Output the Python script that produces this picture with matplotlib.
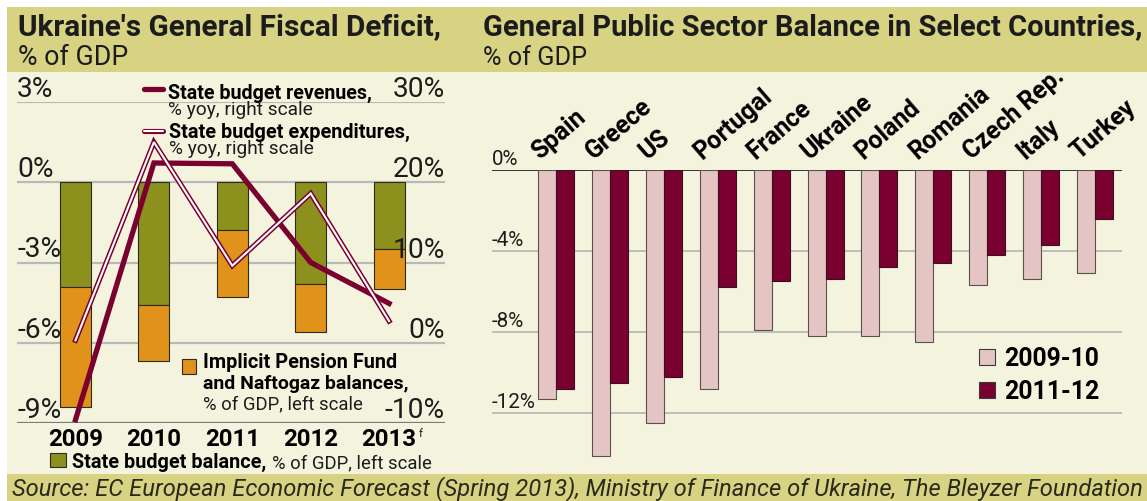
import matplotlib
matplotlib.use("Agg")
import matplotlib.pyplot as plt
import matplotlib.transforms as mtransforms
from matplotlib.patches import Rectangle
from matplotlib.lines import Line2D
import numpy as np

plt.rcParams['font.family'] = ['Roboto', 'DejaVu Sans']

# --- data: Ukraine fiscal deficit (left panel) ---
years = ['2009', '2010', '2011', '2012', '2013']
state_balance = [-3.9, -4.6, -1.8, -3.8, -2.5]          # % of GDP, left scale
pension_naftogaz = [-4.5, -2.1, -2.5, -1.8, -1.5]       # % of GDP, left scale
revenues_yoy = [-9.6, 22.4, 22.3, 10.0, 4.9]            # % yoy, right scale
expenditures_yoy = [0.3, 25.0, 9.6, 18.6, 2.7]          # % yoy, right scale
left_ticks = [3, 0, -3, -6, -9]
right_ticks = [30, 20, 10, 0, -10]

# --- data: public sector balance (right panel) ---
countries = ['Spain', 'Greece', 'US', 'Portugal', 'France', 'Ukraine',
             'Poland', 'Romania', 'Czech Rep.', 'Italy', 'Turkey']
balance_0910 = [-11.3, -14.1, -12.5, -10.8, -7.9, -8.2, -8.2, -8.5, -5.7, -5.4, -5.1]
balance_1112 = [-10.8, -10.5, -10.2, -5.8, -5.5, -5.4, -4.8, -4.6, -4.2, -3.7, -2.4]
balance_ticks = [0, -4, -8, -12]

# colours
KHAKI = '#d8d383'
CREAM = '#f4f4de'
OLIVE = '#8c911e'
ORANGE = '#e0921a'
MAROON = '#7a0030'
PINK = '#e4c5c4'
TEXT = '#1c1c1c'
GRID = '#b9b9b9'

W, H = 1147, 502
fig = plt.figure(figsize=(W / 100, H / 100), dpi=100)
fig.patch.set_facecolor('white')
renderer = fig.canvas.get_renderer()


def rect(x0, y0, x1, y1, color, zorder=-1, **kw):
    """Rectangle in pixel coords (y from top)."""
    fig.add_artist(Rectangle((x0 / W, 1 - y1 / H), (x1 - x0) / W, (y1 - y0) / H,
                             transform=fig.transFigure, facecolor=color,
                             zorder=zorder, **kw))


def label(x, y, s, width=None, size=12, **kw):
    """Text with baseline at pixel (x, y); optionally scaled to a pixel width."""
    kw.setdefault('color', TEXT)
    t = fig.text(x / W, 1 - y / H, s, fontsize=size, va='baseline', **kw)
    if width is not None:
        w = t.get_window_extent(renderer).width
        t.set_fontsize(size * width / w)
    return t


def fit_size(s, width, **kw):
    t = fig.text(0, 0, s, fontsize=12, **kw)
    w = t.get_window_extent(renderer).width
    t.remove()
    return 12 * width / w


# backgrounds
rect(7, 73, W, 475, CREAM, lw=0)
rect(7, 8, W, 73, KHAKI, lw=0)
rect(7, 475, W, H, KHAKI, lw=0)

# titles
label(18, 35, "Ukraine's General Fiscal Deficit,", width=422, fontweight='bold')
label(18, 65, "% of GDP", width=110)
label(483, 35, "General Public Sector Balance in Select Countries,", width=658, fontweight='bold')
label(483, 65, "% of GDP", width=104)
label(12, 495, "Source: EC European Economic Forecast (Spring 2013), Ministry of Finance of Ukraine, "
      "The Bleyzer Foundation", width=1125, style='italic', color='#2a2a1c')

# ---------------- left panel ----------------
ax1 = fig.add_axes([17 / W, 1 - 424 / H, (445 - 17) / W, (424 - 103) / H])
ax1.set_xlim(-0.746, 4.713)
ax1.set_ylim(-9, 3)
ax1.axis('off')
ax2 = ax1.twinx()
ax2.set_ylim(-10, 30)
ax2.axis('off')

x = np.arange(len(years))
for v in left_ticks:
    ax1.axhline(v, color='#7a7a7a' if v == -9 else GRID, lw=1.6, zorder=1)

ax1.bar(x, state_balance, width=0.395, color=OLIVE, edgecolor='#2b2b1f', lw=0.8, zorder=2)
ax1.bar(x, pension_naftogaz, bottom=state_balance, width=0.395, color=ORANGE,
        edgecolor='#2b2b1f', lw=0.8, zorder=2)

ax2.plot(x, revenues_yoy, color=MAROON, lw=3.8, solid_joinstyle='miter', zorder=4)
ax2.plot(x, expenditures_yoy, color=MAROON, lw=3.7, solid_joinstyle='miter', zorder=5)
ax2.plot(x, expenditures_yoy, color='white', lw=1.5, solid_joinstyle='miter', zorder=6)

tick_size = fit_size('-10%', 60)
for v in left_ticks:
    ax1.text(-0.746, v, f'{v}%', fontsize=tick_size, color=TEXT, va='bottom', ha='left')
for v in right_ticks:
    ax2.text(4.713, v, f'{v}%', fontsize=tick_size, color=TEXT, va='bottom', ha='right')

year_size = fit_size('2009', 55, fontweight='bold')
xt1 = mtransforms.blended_transform_factory(ax1.transData, fig.transFigure)
for i, yr in enumerate(years):
    yt = ax1.text(i, 1 - 446 / H, yr, transform=xt1, fontsize=year_size, fontweight='bold',
                  color='black', ha='center', va='baseline')
# forecast mark next to the last year
x_end = yt.get_window_extent(renderer).x1
label(x_end + 2, 437, 'f', size=8)

# left legends
fig.add_artist(Line2D([144 / W, 163 / W], [1 - 90 / H] * 2, color=MAROON, lw=3.8,
                      solid_capstyle='round'))
label(168, 99, 'State budget revenues,', width=204, fontweight='bold', color='black')
label(168, 115, '% yoy, right scale', width=145)
fig.add_artist(Line2D([144 / W, 163 / W], [1 - 132 / H] * 2, color=MAROON, lw=3.7,
                      solid_capstyle='round'))
fig.add_artist(Line2D([144 / W, 163 / W], [1 - 132 / H] * 2, color='white', lw=1.5,
                      solid_capstyle='round'))
label(169, 138, 'State budget expenditures,', width=241, fontweight='bold', color='black')
label(169, 154, '% yoy, right scale', width=145)

rect(182, 360, 196, 375, ORANGE, zorder=3, edgecolor='#2b2b1f', lw=0.8)
label(203, 368, 'Implicit Pension Fund', width=194, fontweight='bold', color='black')
label(203, 389, 'and Naftogaz balances,', width=205, fontweight='bold', color='black')
label(203, 409, '% of GDP, left scale', width=160)

rect(50, 454, 66, 468, OLIVE, zorder=3, edgecolor='#2b2b1f', lw=0.8)
label(72, 468, 'State budget balance,', width=194, fontweight='bold', color='black')
label(272, 468, '% of GDP, left scale', width=160)

# ---------------- right panel ----------------
ax3 = fig.add_axes([492 / W, 1 - 474.75 / H, (1122 - 492) / W, (474.75 - 171) / H])
ax3.set_xlim(-1.187, 10.5)
ax3.set_ylim(-15, 0)
ax3.axis('off')

xc = np.arange(len(countries))
bw = 0.334
for v in balance_ticks:
    ax3.axhline(v, color='#333333' if v == 0 else GRID, lw=1.4 if v == 0 else 1.3, zorder=1)
ax3.bar(xc - bw / 2, balance_0910, width=bw, color=PINK, edgecolor='#5a5050', lw=0.8, zorder=2)
ax3.bar(xc + bw / 2, balance_1112, width=bw, color=MAROON, edgecolor='#3a1020', lw=0.8, zorder=2)

small_size = fit_size('-12%', 44)
for v in balance_ticks:
    ax3.text(-1.187, v + 0.08, f'{v}%', fontsize=small_size, color=TEXT, va='bottom', ha='left')

country_size = fit_size('Czech Rep.', 124, fontweight='bold')
xt3 = mtransforms.blended_transform_factory(ax3.transData, fig.transFigure)
for i, c in enumerate(countries):
    ax3.text(i - bw + 0.04, 1 - 160 / H, c, transform=xt3, fontsize=country_size,
             fontweight='bold', color='black', rotation=41, rotation_mode='anchor',
             ha='left', va='baseline')

# right legend
rect(979, 350, 995, 366, PINK, zorder=3, edgecolor='#3a3a3a', lw=0.8)
label(1004, 366.5, '2009-10', width=95, fontweight='bold', color='black')
rect(979, 383, 995, 399, MAROON, zorder=3, edgecolor='#3a3a3a', lw=0.8)
label(1004, 399, '2011-12', width=95, fontweight='bold', color='black')

fig.savefig('out.png', dpi=100, facecolor=fig.get_facecolor())
